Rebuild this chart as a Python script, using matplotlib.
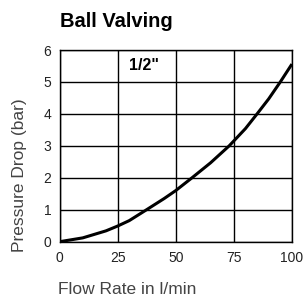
from matplotlib import pyplot as plt
import numpy as np

plt.rcParams['font.family'] = ['Liberation Sans', 'DejaVu Sans']

# flow rate (l/min) vs pressure drop (bar)
flow = [0, 10, 20, 25, 30, 37, 45, 50, 57, 65, 73, 80, 85, 90, 95, 100]
drop = [0, 0.12, 0.34, 0.49, 0.66, 0.98, 1.35, 1.6, 2.0, 2.47, 3.0, 3.54, 4.0, 4.47, 5.0, 5.56]

xticks = [0, 25, 50, 75, 100]
yticks = [0, 1, 2, 3, 4, 5, 6]

fig = plt.figure(figsize=(3.03, 2.96), dpi=100)
ax = fig.add_axes([0.1964, 0.1834, 0.767, 0.6476])

ax.plot(flow, drop, color="black", lw=2.2, solid_capstyle="butt", zorder=3)

ax.set_xlim(0, 100)
ax.set_ylim(0, 6)
ax.set_xticks(xticks)
ax.set_yticks(yticks)
ax.grid(True, color="black", lw=1)
for s in ax.spines.values():
    s.set_linewidth(1)
ax.tick_params(length=0, labelsize=10, labelcolor="#222222")
ax.tick_params(axis="x", pad=7)
ax.tick_params(axis="y", pad=6)

ax.text(36.3, 5.53, '1/2"', fontsize=11.5, fontweight="bold", ha="center", va="center")

fig.text(0.198, 0.929, "Ball Valving", fontsize=14.5, fontweight="bold",
         ha="left", va="center")
fig.text(0.066, 0.407, "Pressure Drop (bar)", fontsize=12.5, color="#444444",
         rotation=90, ha="center", va="center")
fig.text(0.191, 0.022, "Flow Rate in l/min", fontsize=12.5, color="#444444",
         ha="left", va="center")

fig.savefig("out.png", dpi=100)
